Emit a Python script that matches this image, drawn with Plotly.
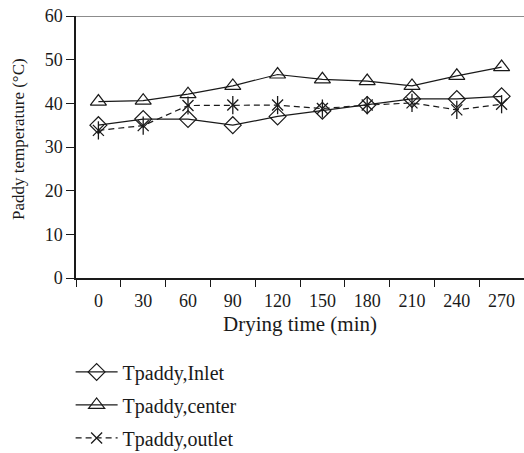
import plotly.graph_objects as go

times = ["0", "30", "60", "90", "120", "150", "180", "210", "240", "270"]
t_inlet = [35.0, 36.4, 36.4, 35.0, 37.0, 38.3, 39.6, 41.0, 41.0, 41.6]
t_center = [40.4, 40.6, 42.1, 44.0, 46.6, 45.5, 45.1, 44.0, 46.3, 48.3]
t_outlet = [33.8, 34.9, 39.5, 39.6, 39.6, 38.8, 39.6, 40.1, 38.5, 39.8]

font_family = "Liberation Serif, Times New Roman, serif"
ink = "#1a1a1a"

fig = go.Figure()
fig.add_trace(go.Scatter(
    x=times, y=t_inlet, name="Tpaddy,Inlet", mode="lines+markers",
    line=dict(color=ink, width=1.2),
    marker=dict(symbol="diamond-open", size=13, color=ink, line=dict(width=1.2)),
    legendgroup="a",
))
fig.add_trace(go.Scatter(
    x=times, y=t_center, name="Tpaddy,center", mode="lines+markers",
    line=dict(color=ink, width=1.2),
    marker=dict(symbol="triangle-up-open", size=14, color=ink, line=dict(width=1.2)),
    legendgroup="b",
))
fig.add_trace(go.Scatter(
    x=times, y=t_outlet, name="Tpaddy,outlet", mode="lines+markers",
    line=dict(color=ink, width=1.2, dash="6px,4px"),
    marker=dict(symbol="x-thin-open", size=11, color=ink, line=dict(width=1.3)),
    legendgroup="c",
))
fig.add_trace(go.Scatter(
    x=times, y=t_outlet, mode="markers", showlegend=False, hoverinfo="skip",
    marker=dict(symbol="line-ns-open", size=13, color=ink, line=dict(width=1.3)),
    legendgroup="c",
))

fig.add_shape(type="line", xref="paper", yref="y", x0=-8/448, x1=1.0, y0=60, y1=60,
              line=dict(color="#666666", width=1.5), layer="below")

fig.add_annotation(text="Paddy temperature (°C)", xref="paper", yref="paper",
                   x=(18 - 76) / 448, y=(278 - 139) / 262, textangle=-90,
                   showarrow=False, xanchor="center", yanchor="middle",
                   font=dict(size=17, family=font_family, color=ink))

fig.update_layout(
    width=524, height=453,
    margin=dict(l=76, r=0, t=16, b=175),
    paper_bgcolor="white", plot_bgcolor="white",
    font=dict(family=font_family, size=18, color=ink),
    showlegend=True,
    legend=dict(x=-0.012, xanchor="left", xref="paper",
                y=0.222, yanchor="top", yref="container",
                font=dict(size=20, family=font_family, color=ink),
                tracegroupgap=4, bgcolor="rgba(0,0,0,0)",
                itemwidth=42),
    xaxis=dict(
        type="category", range=[-0.5, 9.5],
        showline=True, linecolor=ink, linewidth=1.5,
        ticks="outside", ticklen=7, tickwidth=1.2, tickcolor=ink,
        tickson="boundaries", showgrid=False, zeroline=False,
        ticklabelstandoff=6,
        title=dict(text="Drying time (min)", font=dict(size=21), standoff=6),
        tickfont=dict(size=18),
    ),
    yaxis=dict(
        range=[0, 60], tickvals=[0, 10, 20, 30, 40, 50, 60],
        showline=True, linecolor=ink, linewidth=1.5,
        ticks="outside", ticklen=8, tickwidth=1.2, tickcolor=ink,
        showgrid=False, zeroline=False,
        tickfont=dict(size=18),
    ),
)

fig.write_html("out.html")
